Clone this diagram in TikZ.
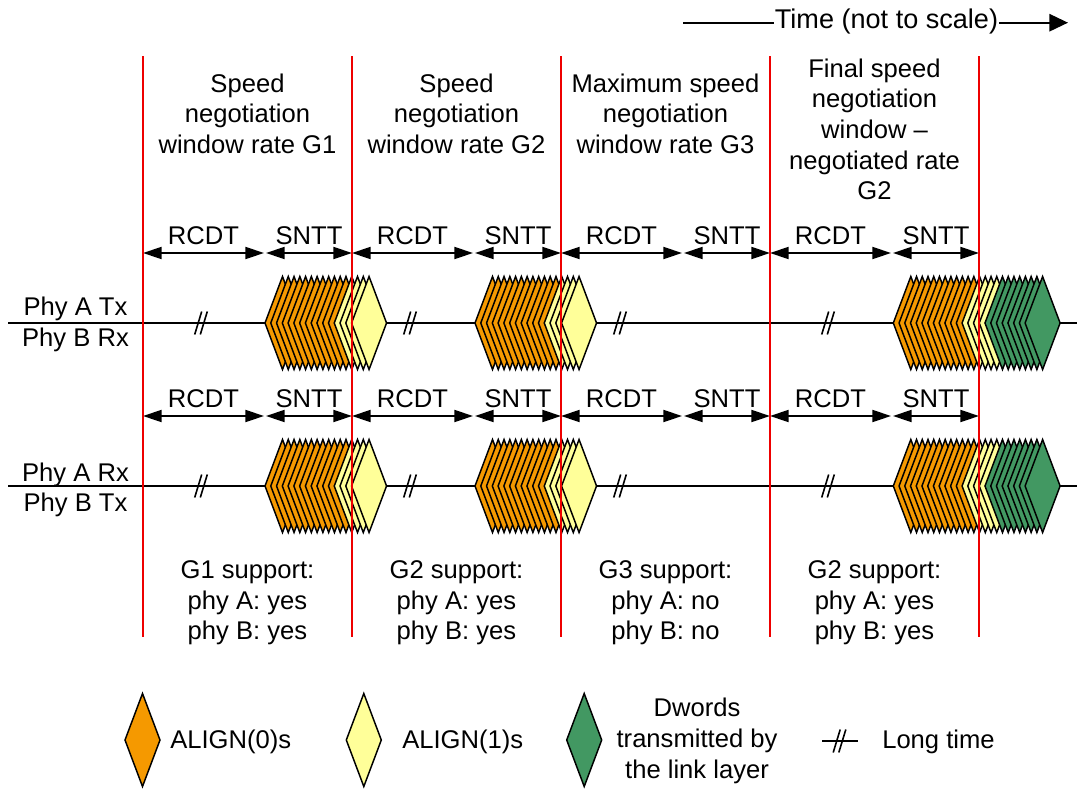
\documentclass[tikz,border=0pt]{standalone}
\usepackage{fontspec}
\setmainfont{Liberation Sans}
\usetikzlibrary{arrows.meta}
\definecolor{orA}{RGB}{245,153,0}
\definecolor{ylA}{RGB}{255,255,153}
\definecolor{grA}{RGB}{66,152,98}
\definecolor{redA}{RGB}{238,0,0}
\newcommand\mydia[3]{\draw[dia,fill=#3] (#1,#2) +(-17.5,0) -- +(0,-46.5) -- +(17.5,0) -- +(0,46.5) -- cycle;}
\newcommand\mybrk[2]{\draw[brkline] (#1-6.3,#2+11.5) -- (#1+0.7,#2-11.5) (#1-0.7,#2+11.5) -- (#1+6.3,#2-11.5);}
\begin{document}
\begin{tikzpicture}[x=0.75pt,y=-0.75pt,
  lbl/.style={font=\fontsize{19.2}{23}\selectfont, inner sep=0pt},
  mlbl/.style={lbl, align=center, anchor=north},
  sig/.style={line width=1.5pt},
  brkline/.style={line width=1.2pt},
  win/.style={draw=redA, line width=1.5pt},
  dim/.style={line width=1.5pt, {Triangle[length=14pt,width=9pt]}-{Triangle[length=14pt,width=9pt]}},
  dia/.style={draw=black, line width=1.1pt}]
\useasboundingbox (0,0) rectangle (1077,789);

% time arrow
\coordinate (t0) at (683,22.7);
\coordinate (t1) at (1068,22.7);
\node[lbl, font=\fontsize{20.3}{24}\selectfont, anchor=base, inner xsep=0.5pt] (time) at (886.5,28) {Time (not to scale)};
\draw[sig] (t0) -- (t0 -| time.west);
\draw[sig, -{Triangle[length=14pt,width=13pt]}] (time.east |- t0) -- (t1);

% signal lines
\coordinate (l1a) at (8,323);
\coordinate (l1b) at (1077,323);
\coordinate (l2a) at (8,486);
\coordinate (l2b) at (1077,486);
\draw[sig] (l1a) -- (l1b);
\draw[sig] (l2a) -- (l2b);
\foreach \bx in {201,410,620,828} {\mybrk{\bx}{323}\mybrk{\bx}{486}}

% phy labels
\node[lbl,anchor=base] (pat) at (75.5,315) {Phy A Tx};
\node[lbl,anchor=base] (pbr) at (75.5,346) {Phy B Rx};
\node[lbl,anchor=base] (par) at (75.5,481.7) {Phy A Rx};
\node[lbl,anchor=base] (pbt) at (75.5,511.7) {Phy B Tx};

% diamond clusters
\foreach \cy in {323,486} {
  \foreach \cx in {282.5,492.5} {
    \foreach \i in {0,...,11} {\mydia{\cx+\i*5.77}{\cy}{orA}}
    \foreach \i in {12,...,15} {\mydia{\cx+\i*5.77}{\cy}{ylA}}
  }
  \foreach \i in {0,...,11} {\mydia{910.8+\i*5.73}{\cy}{orA}}
  \foreach \i in {12,...,15} {\mydia{910.8+\i*5.73}{\cy}{ylA}}
  \foreach \i in {16,...,23} {\mydia{910.8+\i*5.73}{\cy}{grA}}
}

% dimension arrows
\foreach \k/\x in {0/143,1/352,2/561,3/770} {
  \foreach \r/\y in {T/253,B/416} {
    \coordinate (rs\r\k) at (\x,\y);
    \coordinate (re\r\k) at (\x+121,\y);
    \coordinate (ss\r\k) at (\x+123,\y);
    \coordinate (se\r\k) at (\x+209,\y);
    \draw[dim] (rs\r\k) -- (re\r\k);
    \draw[dim] (ss\r\k) -- (se\r\k);
    \node[lbl,anchor=base] (rl\r\k) at (\x+60.5,\y-9) {RCDT};
    \node[lbl,anchor=base] (sl\r\k) at (\x+166,\y-9) {SNTT};
  }
}

% headers
\node[mlbl] (h1) at (247.5,73.5) {Speed\\negotiation\\window rate G1};
\node[mlbl] (h2) at (456.5,73.5) {Speed\\negotiation\\window rate G2};
\node[mlbl] (h3) at (665.5,73.5) {Maximum speed\\negotiation\\window rate G3};
\node[mlbl] (h4) at (874.5,58.5) {Final speed\\negotiation\\window \textendash\\negotiated rate\\G2};

% support text
\node[mlbl] (s1) at (247.5,560.5) {G1 support:\\phy A: yes\\phy B: yes};
\node[mlbl] (s2) at (456.5,560.5) {G2 support:\\phy A: yes\\phy B: yes};
\node[mlbl] (s3) at (665.5,560.5) {G3 support:\\phy A: no\\phy B: no};
\node[mlbl] (s4) at (874.5,560.5) {G2 support:\\phy A: yes\\phy B: yes};

% window boundaries
\foreach \k/\x in {0/143,1/352,2/561,3/770,4/979} {
  \coordinate (w\k t) at (\x,56);
  \coordinate (w\k b) at (\x,637);
  \draw[win] (w\k t) -- (w\k b);
}

% legend
\mydia{142.5}{740}{orA}
\node[lbl,anchor=base west] (lg0) at (170,748.3) {ALIGN(0)s};
\mydia{363.8}{740}{ylA}
\node[lbl,anchor=base west] (lg1) at (402,748.3) {ALIGN(1)s};
\mydia{584.2}{740}{grA}
\node[mlbl] (lg2) at (697,698) {Dwords\\transmitted by\\the link layer};
\coordinate (lba) at (822,741);
\coordinate (lbb) at (858,741);
\draw[sig] (lba) -- (lbb);
\mybrk{839.5}{741}
\node[lbl,anchor=base west] (lg3) at (882,748.3) {Long time};
\end{tikzpicture}
\end{document}
